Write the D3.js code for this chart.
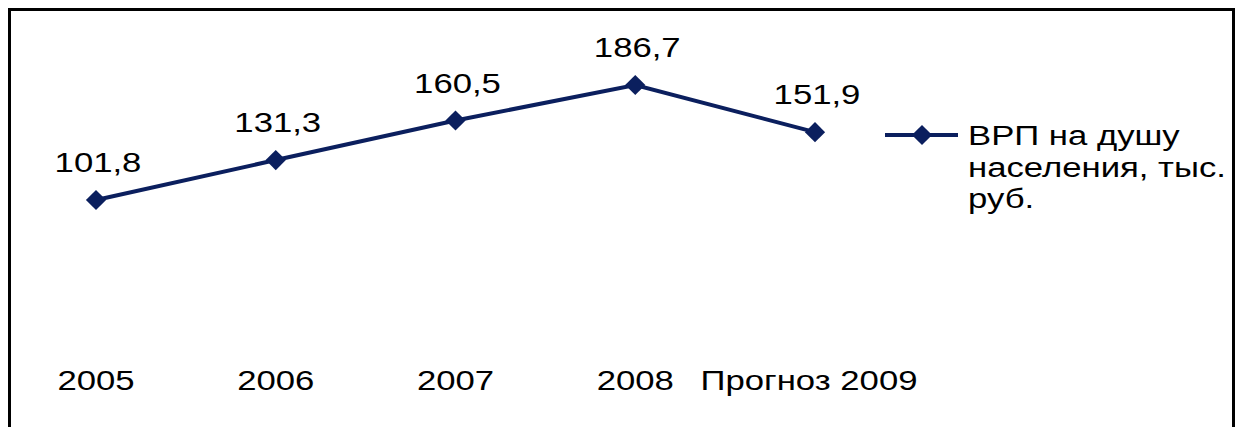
<!DOCTYPE html>
<html>
<head>
<meta charset="utf-8">
<script src="https://cdn.jsdelivr.net/npm/d3@7"></script>
<style>
  body { margin: 0; background: #fff; }
  svg { display: block; }
  text { font-family: "Liberation Sans", Arial, sans-serif; fill: #000; }
</style>
</head>
<body>
<svg id="chart" width="1248" height="427"></svg>
<script>
const years = ["2005", "2006", "2007", "2008", "Прогноз 2009"];
const values = [101.8, 131.3, 160.5, 186.7, 151.9];
const labels = ["101,8", "131,3", "160,5", "186,7", "151,9"];
const legendLines = ["ВРП на душу", "населения, тыс.", "руб."];

const color = "#0b1f5e";
const svg = d3.select("#chart");

// frame
svg.append("rect")
    .attr("x", 9.5).attr("y", 9.5)
    .attr("width", 1224).attr("height", 440)
    .attr("fill", "none")
    .attr("stroke", "#000")
    .attr("stroke-width", 3);

const x = d3.scalePoint()
    .domain(years)
    .range([96, 815]);

const y = d3.scaleLinear()
    .domain([0, 200])
    .range([337.9, 67.0]);

const line = d3.line()
    .x((d, i) => x(years[i]))
    .y(d => y(d));

svg.append("path")
    .datum(values)
    .attr("d", line)
    .attr("fill", "none")
    .attr("stroke", color)
    .attr("stroke-width", 4);

const diamond = d3.symbol().type(d3.symbolDiamond2).size(260);

svg.selectAll(".pt")
    .data(values)
    .enter().append("path")
    .attr("class", "pt")
    .attr("transform", (d, i) => "translate(" + x(years[i]) + "," + y(d) + ")")
    .attr("d", diamond)
    .attr("fill", color);

// data labels
svg.selectAll(".lbl")
    .data(values)
    .enter().append("text")
    .attr("class", "lbl")
    .attr("transform", (d, i) => "translate(" + (x(years[i]) + 2) + "," + (y(d) - 28) + ") scale(1.24,1)")
    .attr("text-anchor", "middle")
    .style("font-size", "28px")
    .text((d, i) => labels[i]);

// category labels
svg.selectAll(".cat")
    .data(years)
    .enter().append("text")
    .attr("class", "cat")
    .attr("transform", d => "translate(" + (d === years[4] ? x(d) - 6 : x(d)) + ",390) scale(1.24,1)")
    .attr("text-anchor", "middle")
    .style("font-size", "28px")
    .text(d => d);

// legend
const lg = svg.append("g").attr("transform", "translate(885,135)");
lg.append("line")
    .attr("x1", 0).attr("x2", 73)
    .attr("stroke", color).attr("stroke-width", 4);
lg.append("path")
    .attr("transform", "translate(37,0)")
    .attr("d", diamond)
    .attr("fill", color);
lg.selectAll("text")
    .data(legendLines)
    .enter().append("text")
    .attr("transform", (d, i) => "translate(83," + (10 + i * 31.5) + ") scale(1.24,1)")
    .style("font-size", "28px")
    .text(d => d);
</script>
</body>
</html>
